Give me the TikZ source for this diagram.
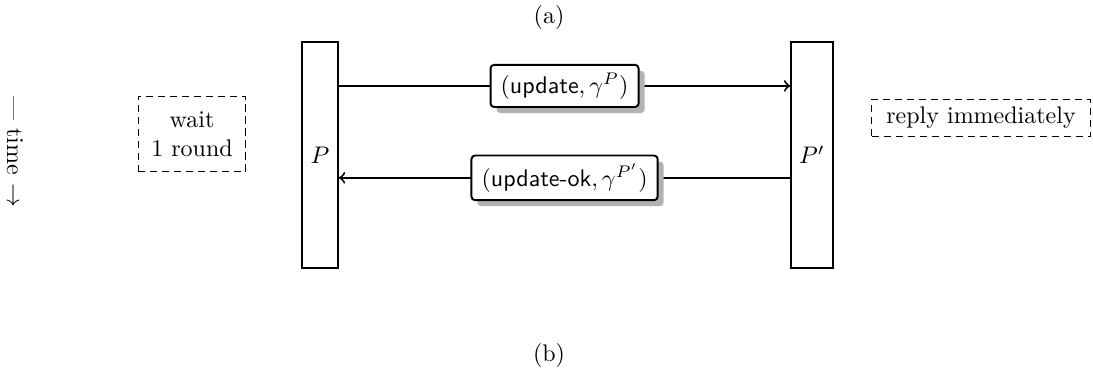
\documentclass[tikz,border=0pt]{standalone}
\usetikzlibrary{shadows}
\tikzset{
  party/.style={draw,line width=0.8pt,minimum width=15pt,minimum height=94pt},
  msg/.style={draw,fill=white,rounded corners=1.5pt,line width=0.8pt,inner xsep=4.2pt,
    drop shadow={shadow xshift=2.5pt,shadow yshift=-2.5pt,fill=black!30,opacity=1}},
  note/.style={draw,dash pattern=on 3pt off 2pt,line width=0.4pt,inner xsep=6pt,align=center},
  flow/.style={line width=0.8pt,->}
}
\begin{document}
\begin{tikzpicture}[x=1pt,y=1pt]
\path[use as bounding box] (0,0) rectangle (455.4,163.3);

% caption
\node (capa) at (228.75,155.8) {(a)};
\node (capb) at (228.75,15.0) {(b)};

% time axis
\node[rotate=-90] (time) at (6.25,100.0) {--- time $\rightarrow$};

% the two parties
\node[party] (P) at (133.3,98.75) {$P$};
\node[party] (Pp) at (338.3,98.75) {$P'$};

% messages
\coordinate (outP) at (P.east |- 0,127.5);
\coordinate (inPp) at (Pp.west |- 0,127.5);
\coordinate (outPp) at (Pp.west |- 0,89.2);
\coordinate (inP) at (P.east |- 0,89.2);

\draw[flow] (outP) -- node[msg] (upd) {$(\textsf{update}, \gamma^{P})$} (inPp);
\draw[flow] (outPp) -- node[msg] (updok) {$(\textsf{update-ok}, \gamma^{P'})$} (inP);

% notes
\node[note,inner xsep=5.5pt,inner ysep=6.4pt] (wait) at (80.0,107.5) {wait\\1 round};
\node[note] (reply) at (408.75,114.2) {reply immediately};
\end{tikzpicture}
\end{document}
